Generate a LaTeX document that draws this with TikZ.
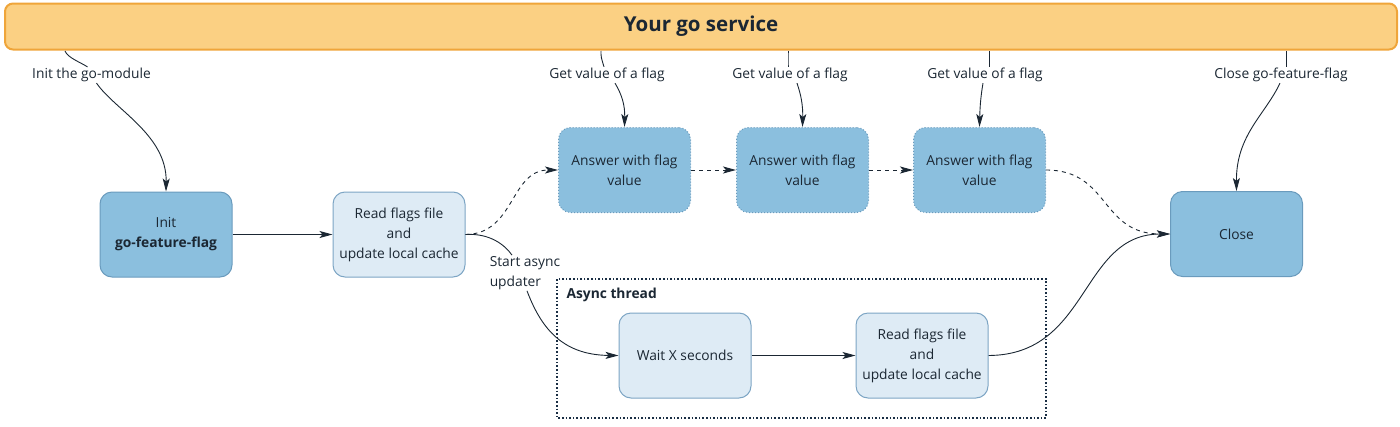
\documentclass[tikz,border=0pt]{standalone}
\usepackage{fontspec}
\setmainfont{Open Sans}
\usetikzlibrary{arrows.meta}
\definecolor{barfill}{HTML}{FBD083}
\definecolor{barline}{HTML}{EFA53A}
\definecolor{darkfill}{HTML}{8BBFDE}
\definecolor{darkline}{HTML}{6A9BBD}
\definecolor{lightfill}{HTML}{DEEBF5}
\definecolor{lightline}{HTML}{7DA5C4}
\definecolor{txt}{HTML}{1B2733}
\definecolor{asyncline}{HTML}{1A2E44}
\tikzset{
  box/.style={rounded corners=12pt, minimum width=132pt, minimum height=85pt, align=center,
    font=\fontsize{13.8}{20}\selectfont, text=txt, line width=1pt},
  darkbox/.style={box, fill=darkfill, draw=darkline},
  lightbox/.style={box, fill=lightfill, draw=lightline},
  dotbox/.style={box, fill=darkfill, draw=darkline, dotted},
  lab/.style={font=\fontsize{13.8}{20}\selectfont, text=txt, inner sep=1pt},
  arr/.style={-{Stealth[length=13pt,width=7pt,inset=3pt]}, line width=0.9pt, draw=txt},
  plain/.style={line width=0.9pt, draw=txt},
  darr/.style={arr, dash pattern=on 4pt off 4pt},
}
\begin{document}
\begin{tikzpicture}[x=1pt,y=-1pt]
\useasboundingbox (0,0) rectangle (1400,426);
% top bar
\node[draw=barline, fill=barfill, line width=2pt, rounded corners=8pt,
  minimum width=1392pt, minimum height=46pt, font=\fontsize{20.5}{22}\selectfont\bfseries, text=txt]
  (bar) at (701,26.5) {Your go service};
% boxes
\node[darkbox] (init) at (166,234.5) {Init\\\textbf{go-feature-flag}};
\node[lightbox] (read1) at (399,234.5) {Read flags file\\and\\update local cache};
\node[dotbox] (ans1) at (624.5,170) {Answer with flag\\value};
\node[dotbox] (ans2) at (802.5,170) {Answer with flag\\value};
\node[dotbox] (ans3) at (979.5,170) {Answer with flag\\value};
\node[darkbox] (close) at (1236.5,234) {Close};
\draw[asyncline, line width=1.6pt, dotted] (557,279) rectangle (1046,418);
\node[anchor=west, font=\fontsize{13.8}{20}\selectfont\bfseries, text=txt] (async) at (563,295) {Async thread};
\node[lightbox] (wait) at (685,355.5) {Wait X seconds};
\node[lightbox] (read2) at (922,355.5) {Read flags file\\and\\update local cache};
% labels
\node[lab] (l0) at (91.5,75) {Init the go-module};
\node[lab] (l1) at (607,75) {Get value of a flag};
\node[lab] (l2) at (790,75) {Get value of a flag};
\node[lab] (l3) at (985,75) {Get value of a flag};
\node[lab] (l4) at (1281,75) {Close go-feature-flag};
\node[lab, align=left] (l5) at (525,273) {Start async\\updater};
% coordinates on bar
\coordinate (c0) at (65,51);
\coordinate (c1) at (601,51);
\coordinate (c2) at (788,51);
\coordinate (c3) at (989,51);
\coordinate (c4) at (1286,51);
% connectors from the bar
\draw[plain] (c0) .. controls (68,58) and (80,62) .. ([xshift=-4pt]l0.north);
\draw[arr] ([xshift=5pt]l0.south) .. controls (115,110) and (167,135) .. (init.north);
\draw[plain] (c1) .. controls (601,57) .. ([xshift=-3pt]l1.north);
\draw[arr] ([xshift=8pt]l1.south) .. controls (622,95) and (625,105) .. (ans1.north);
\draw[plain] (c2) .. controls (788,57) .. ([xshift=-2pt]l2.north);
\draw[arr] ([xshift=7pt]l2.south) .. controls (801,95) and (803,105) .. (ans2.north);
\draw[plain] (c3) .. controls (989,57) .. ([xshift=4pt]l3.north);
\draw[arr] ([xshift=-2pt]l3.south) .. controls (981,95) and (980,105) .. (ans3.north);
\draw[plain] (c4) .. controls (1286,57) .. ([xshift=5pt]l4.north);
\draw[arr] ([xshift=-1pt]l4.south) .. controls (1265,115) and (1236,135) .. (close.north);
% main flow
\draw[arr] (init) -- (read1);
\draw[darr] (read1.east) .. controls (515,234) and (510,170) .. (ans1.west);
\draw[darr] (ans1) -- (ans2);
\draw[darr] (ans2) -- (ans3);
\draw[darr] (ans3.east) .. controls (1110,170) and (1100,234) .. (close.west);
\draw[plain] (read1.east) .. controls (490,233) and (505,245) .. ([xshift=-13pt]l5.north);
\draw[arr] ([xshift=2pt]l5.south) .. controls (540,325) and (560,355) .. (wait.west);
\draw[arr] (wait) -- (read2);
\draw[arr] (read2.east) .. controls (1090,355) and (1080,234) .. (close.west);
\end{tikzpicture}
\end{document}
